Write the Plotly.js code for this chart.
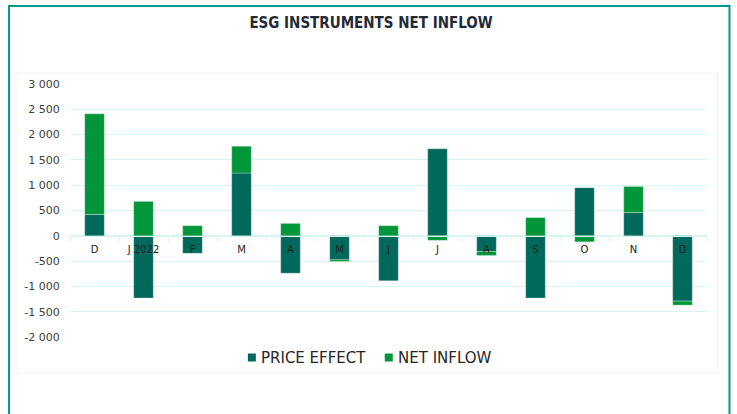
<!DOCTYPE html>
<html>
<head>
<meta charset="utf-8">
<script src="https://cdn.plot.ly/plotly-3.0.1.min.js"></script>
<style>
html,body{margin:0;padding:0;background:#fff;}
#chart{width:737px;height:414px;}
</style>
</head>
<body>
<div id="chart"></div>
<script>
const categories = ['D','J 2022','F','M','A','M','J','J','A','S','O','N','D'];
const priceEffect = [420, -1230, -345, 1240, -740, -475, -890, 1720, -310, -1230, 950, 460, -1290];
const netInflow = [1990, 680, 200, 530, 245, -33, 200, -90, -80, 360, -120, 515, -80];
const yTickVals = [-2000, -1500, -1000, -500, 0, 500, 1000, 1500, 2000, 2500, 3000];
const yTickText = ['-2 000','-1 500','-1 000','-500','0','500','1 000','1 500','2 000','2 500','3 000'];
const seriesNames = ['PRICE EFFECT', 'NET INFLOW'];
const seriesColors = ['#00695c', '#009639'];
const chartTitle = 'ESG INSTRUMENTS NET INFLOW';

const xIdx = categories.map((c, i) => i);
const boundaries = categories.map((c, i) => i - 0.5).concat([categories.length - 0.5]);

const W = 737, H = 414;
const L = 70, R = 707.5, T = 84, B = 337;
const px2x = p => (p - L) / (R - L);
const px2y = p => (B - p) / (B - T);

const traces = [
  {type:'bar', name: seriesNames[0], x: xIdx, y: priceEffect,
   marker:{color: seriesColors[0], line:{color:'rgba(255,255,255,0.5)', width:0.6}}, width:0.4},
  {type:'bar', name: seriesNames[1], x: xIdx, y: netInflow,
   marker:{color: seriesColors[1], line:{color:'rgba(255,255,255,0.5)', width:0.6}}, width:0.4}
];

// custom legend (small squares close to text, as in reference)
const legendX = [248, 385];
const legendY = 357.5;
const legendShapes = seriesNames.map((n, i) => ({
  type:'rect', xref:'paper', yref:'paper',
  x0: px2x(legendX[i]), x1: px2x(legendX[i] + 8),
  y0: px2y(legendY + 4), y1: px2y(legendY - 4),
  fillcolor: seriesColors[i], line:{width:0}
}));
const legendAnn = seriesNames.map((n, i) => ({
  xref:'paper', yref:'paper', x: px2x(legendX[i] + 11), y: px2y(legendY),
  xanchor:'left', yanchor:'middle', showarrow:false, text: n,
  font:{size:15, color:'#262626', family:'DejaVu Sans, Verdana, sans-serif'}
}));

const gridC = '#d6f5f3';
const layout = {
  width: W, height: H,
  margin: {l: L, r: W - R, t: T, b: H - B, pad: 0},
  paper_bgcolor: '#fff', plot_bgcolor: 'rgba(0,0,0,0)',
  barmode: 'relative',
  title: {text: chartTitle, x: 371 / W, xref: 'container', xanchor: 'center', y: 1 - 23/H, yref: 'container', yanchor: 'middle',
          font: {family: 'DejaVu Sans Condensed, DejaVu Sans, sans-serif', size: 15, color: '#222b35', weight: 'bold'}},
  font: {family: 'DejaVu Sans, Verdana, sans-serif', color: '#404040'},
  xaxis: {
    range: [-0.5, categories.length - 0.5],
    tickvals: xIdx, ticktext: categories,
    tickfont: {size: 10, color: '#222'},
    ticks: 'outside', ticklen: 4, tickcolor: 'rgba(0,0,0,0)',
    showgrid: false, zeroline: false,
    showline: true, linecolor: gridC, linewidth: 1,
    anchor: 'free', position: 0.4,
    minor: {tickvals: boundaries, ticks: 'outside', ticklen: 4, tickcolor: gridC, showgrid: false},
    fixedrange: true
  },
  yaxis: {
    range: [-2000, 3000],
    tickvals: yTickVals, ticktext: yTickText,
    tickfont: {size: 11, color: '#404040'},
    ticks: 'outside', ticklen: 7, tickcolor: 'rgba(0,0,0,0)',
    showgrid: true, gridcolor: gridC, gridwidth: 1,
    zeroline: false, showline: false,
    fixedrange: true
  },
  showlegend: false,
  annotations: legendAnn,
  shapes: [
    {type:'rect', xref:'paper', yref:'paper', x0: px2x(16), x1: px2x(718), y0: px2y(373), y1: px2y(73),
     line:{color:'#f3f3f3', width:1}, layer:'below'},
    {type:'path', xref:'paper', yref:'paper',
     path: `M ${px2x(9)},${px2y(430)} L ${px2x(9)},${px2y(6)} L ${px2x(730)},${px2y(6)} L ${px2x(730)},${px2y(430)}`,
     line:{color:'#009688', width:2}}
  ].concat(legendShapes)
};

Plotly.newPlot('chart', traces, layout, {displayModeBar: false, staticPlot: true});
</script>
</body>
</html>
